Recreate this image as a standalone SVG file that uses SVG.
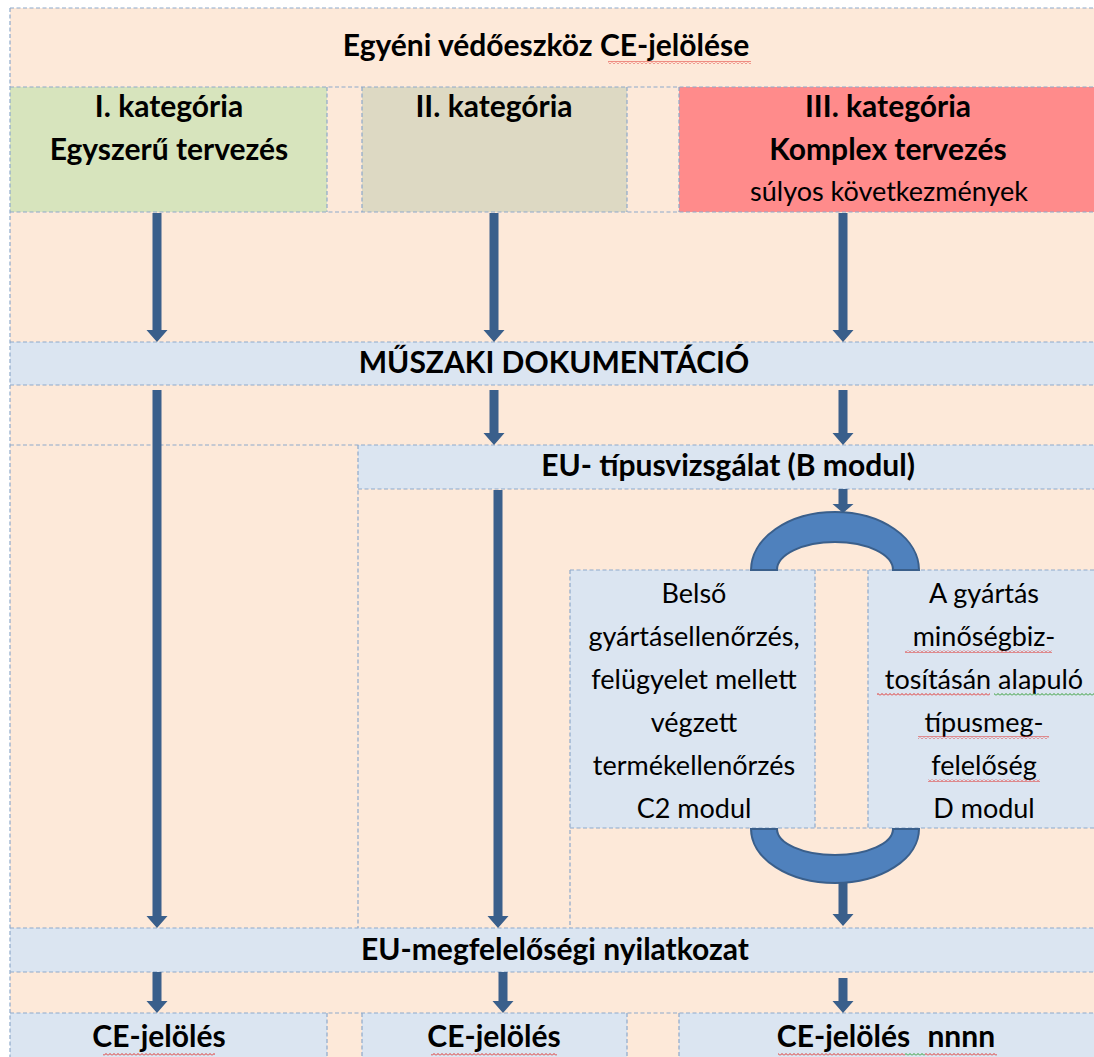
<svg xmlns="http://www.w3.org/2000/svg" width="1094" height="1057" viewBox="0 0 1094 1057">
<style>
.peach{fill:#FDE9D9}
.blue{fill:#DBE5F1}
.grn{fill:#D7E4BD}
.tan{fill:#DDD9C3}
.red{fill:#FF8B8B}
.bd line{stroke:#8EA9CB;stroke-width:1.2;stroke-dasharray:4 2.5}
text{font-family:Lato,"Liberation Sans",sans-serif;fill:#000;text-anchor:middle}
.b{font-weight:bold;font-size:30px}
.r{font-size:27px}
.arr{fill:#3A5F8B}
.arc{fill:#4F81BD;stroke:#3A5F8B;stroke-width:2}
</style>
<defs>
<pattern id="sqr" width="4" height="3" patternUnits="userSpaceOnUse"><polyline points="0,2.5 2,0.5 4,2.5" fill="none" stroke="#E0302A" stroke-width="1"/></pattern>
<pattern id="sqg" width="4" height="3" patternUnits="userSpaceOnUse"><polyline points="0,2.5 2,0.5 4,2.5" fill="none" stroke="#2E9A2E" stroke-width="1"/></pattern>
</defs>
<rect x="0" y="0" width="1094" height="1057" fill="#fff"/>
<g id="fills">
<rect class="peach" x="10" y="8" width="1084" height="1049"/>
</g>
<g id="title"><text class="b" x="546" y="56">Egyéni védőeszköz CE-jelölése</text></g>
<g id="cat1"><rect class="grn" x="10" y="87" width="317" height="125"/>
<text class="b" x="169" y="117">I. kategória</text><text class="b" x="169" y="160">Egyszerű tervezés</text></g>
<g id="cat2"><rect class="tan" x="362" y="87" width="265" height="125"/>
<text class="b" x="494" y="117">II. kategória</text></g>
<g id="cat3"><rect class="red" x="679" y="87" width="415" height="125"/>
<text class="b" x="888" y="117">III. kategória</text><text class="b" x="888" y="160">Komplex tervezés</text><text class="r" x="889" y="201">súlyos következmények</text></g>
<g id="muszaki"><rect class="blue" x="10" y="342" width="1084" height="43"/>
<text class="b" x="554" y="373">MŰSZAKI DOKUMENTÁCIÓ</text></g>
<g id="tipus"><rect class="blue" x="358" y="445" width="736" height="44"/>
<text class="b" x="728" y="476">EU- típusvizsgálat (B modul)</text></g>
<g id="c2"><rect class="blue" x="570" y="570" width="245" height="258"/>
<text class="r"><tspan x="694" y="603">Belső</tspan><tspan x="694" y="646">gyártásellenőrzés,</tspan><tspan x="694" y="689">felügyelet mellett</tspan><tspan x="694" y="732">végzett</tspan><tspan x="694" y="775">termékellenőrzés</tspan><tspan x="694" y="818">C2 modul</tspan></text></g>
<g id="dmod"><rect class="blue" x="868" y="570" width="226" height="258"/>
<text class="r"><tspan x="984" y="603">A gyártás</tspan><tspan x="984" y="646">minőségbiz-</tspan><tspan x="984" y="689">tosításán alapuló</tspan><tspan x="984" y="732">típusmeg-</tspan><tspan x="984" y="775">felelőség</tspan><tspan x="984" y="818">D modul</tspan></text></g>
<g id="nyilatkozat"><rect class="blue" x="10" y="928" width="1084" height="44"/>
<text class="b" x="555" y="960">EU-megfelelőségi nyilatkozat</text></g>
<g id="ce1"><rect class="blue" x="10" y="1013" width="317" height="44"/><text class="b" x="159" y="1047">CE-jelölés</text></g>
<g id="ce2"><rect class="blue" x="362" y="1013" width="265" height="44"/><text class="b" x="494" y="1047">CE-jelölés</text></g>
<g id="ce3"><rect class="blue" x="679" y="1013" width="415" height="44"/><text class="b" x="886" y="1047">CE-jelölés <tspan dx="10">nnnn</tspan></text></g>
<g id="borders" class="bd">
<line x1="10" y1="8" x2="1094" y2="8"/><line x1="10" y1="87" x2="1094" y2="87"/>
<line x1="10" y1="212" x2="1094" y2="212"/><line x1="10" y1="342" x2="1094" y2="342"/>
<line x1="10" y1="385" x2="1094" y2="385"/><line x1="10" y1="445" x2="1094" y2="445"/>
<line x1="358" y1="489" x2="1094" y2="489"/><line x1="570" y1="570" x2="1094" y2="570"/>
<line x1="570" y1="828" x2="1094" y2="828"/><line x1="10" y1="928" x2="1094" y2="928"/>
<line x1="10" y1="972" x2="1094" y2="972"/><line x1="10" y1="1013" x2="1094" y2="1013"/>
<line x1="10" y1="8" x2="10" y2="1057"/>
<line x1="327" y1="87" x2="327" y2="212"/><line x1="362" y1="87" x2="362" y2="212"/>
<line x1="627" y1="87" x2="627" y2="212"/><line x1="679" y1="87" x2="679" y2="212"/>
<line x1="327" y1="1013" x2="327" y2="1057"/><line x1="362" y1="1013" x2="362" y2="1057"/>
<line x1="627" y1="1013" x2="627" y2="1057"/><line x1="679" y1="1013" x2="679" y2="1057"/>
<line x1="358" y1="445" x2="358" y2="928"/><line x1="570" y1="570" x2="570" y2="928"/>
<line x1="815" y1="570" x2="815" y2="828"/><line x1="868" y1="570" x2="868" y2="828"/>
</g>
<g id="squiggles">
<rect x="608" y="61" width="143" height="3" fill="url(#sqr)"/>
<rect x="905" y="650" width="147" height="3" fill="url(#sqr)"/>
<rect x="877" y="693" width="113" height="3" fill="url(#sqr)"/>
<rect x="994" y="693" width="100" height="3" fill="url(#sqg)"/>
<rect x="918" y="736" width="131" height="3" fill="url(#sqr)"/>
<rect x="928" y="779" width="112" height="3" fill="url(#sqr)"/>
<rect x="103" y="1053" width="112" height="3" fill="url(#sqr)"/>
<rect x="431" y="1053" width="126" height="3" fill="url(#sqr)"/>
<rect x="778" y="1053" width="127" height="3" fill="url(#sqr)"/>
<rect x="905" y="1053" width="20" height="3" fill="url(#sqg)"/>
<rect x="925" y="1053" width="72" height="3" fill="url(#sqr)"/>
</g>
<g id="connectors">
<path class="arc" d="M751,570 A84,58 0 0 1 919,570 L893,570 A58,28 0 0 0 777,570 Z"/>
<path class="arc" d="M751,829 A84,54 0 0 0 919,829 L893,829 A58,26 0 0 1 777,829 Z"/>
<g class="arr">
<path d="M152.5,213 h9 v117 h6 l-10.5,12 l-10.5,-12 h6 z"/>
<path d="M489.5,213 h9 v117 h6 l-10.5,12 l-10.5,-12 h6 z"/>
<path d="M838.5,213 h9 v117 h6 l-10.5,12 l-10.5,-12 h6 z"/>
<path d="M152.5,390 h9 v526 h6 l-10.5,12 l-10.5,-12 h6 z"/>
<path d="M489.5,390 h9 v43 h6 l-10.5,12 l-10.5,-12 h6 z"/>
<path d="M838.5,390 h9 v43 h6 l-10.5,12 l-10.5,-12 h6 z"/>
<path d="M493.5,490 h9 v426 h6 l-10.5,12 l-10.5,-12 h6 z"/>
<path d="M838.5,489 h9 v15 h6 l-10.5,9 l-10.5,-9 h6 z"/>
<path d="M838.5,882 h9 v32 h6 l-10.5,12 l-10.5,-12 h6 z"/>
<path d="M152.5,972 h9 v29 h6 l-10.5,12 l-10.5,-12 h6 z"/>
<path d="M498.5,972 h9 v29 h6 l-10.5,12 l-10.5,-12 h6 z"/>
<path d="M838.5,978 h9 v23 h6 l-10.5,12 l-10.5,-12 h6 z"/>
</g>
</g>
</svg>
